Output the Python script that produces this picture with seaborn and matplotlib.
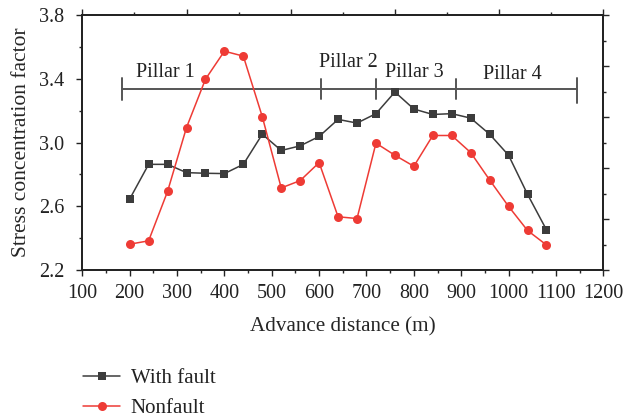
import numpy as np
import pandas as pd
import matplotlib
matplotlib.use("Agg")
import matplotlib.pyplot as plt
from matplotlib.ticker import MultipleLocator, NullFormatter
import seaborn as sns

# ---- data ----
distance = [200, 240, 280, 320, 360, 400, 440, 480, 520, 560, 600, 640,
            680, 720, 760, 800, 840, 880, 920, 960, 1000, 1040, 1080]
with_fault = [2.645, 2.863, 2.863, 2.811, 2.807, 2.805, 2.863, 3.052, 2.950,
              2.979, 3.038, 3.145, 3.122, 3.181, 3.317, 3.210, 3.176, 3.181,
              3.153, 3.052, 2.920, 2.675, 2.452]
nonfault = [2.362, 2.383, 2.693, 3.094, 3.397, 3.573, 3.542, 3.162, 2.715,
            2.761, 2.874, 2.534, 2.523, 2.996, 2.920, 2.851, 3.044, 3.044,
            2.937, 2.765, 2.599, 2.448, 2.357]
pillar_bounds = [184, 605, 721, 888, 1144]
pillar_labels = ["Pillar 1", "Pillar 2", "Pillar 3", "Pillar 4"]
pillar_label_x = [275, 661, 800, 1009]
pillar_label_y = [3.44, 3.505, 3.44, 3.425]
pillar_line_y = 3.335
y_major = [2.2, 2.6, 3.0, 3.4, 3.8]
y_minor = [2.4, 2.8, 3.2, 3.6]
series_names = ["With fault", "Nonfault"]

df = pd.DataFrame({"distance": distance * 2,
                   "value": with_fault + nonfault,
                   "series": [series_names[0]] * len(distance) + [series_names[1]] * len(distance)})

sns.set_style("ticks")
plt.rcParams['font.family'] = ['Liberation Serif', 'DejaVu Serif']
plt.rcParams['font.size'] = 14

fig = plt.figure(figsize=(6.23, 4.17), dpi=100)
ax = fig.add_axes([0.1321, 0.3525, 0.8363, 0.6115])

dark = "#3c3c3c"
red = "#ee3b35"
sns.lineplot(data=df[df.series == series_names[0]], x="distance", y="value",
             color=dark, marker="s", markersize=6, markeredgewidth=0, linewidth=1.1,
             label=series_names[0], ax=ax)
sns.lineplot(data=df[df.series == series_names[1]], x="distance", y="value",
             color=red, marker="o", markersize=6.5, markeredgewidth=0, linewidth=1.1,
             label=series_names[1], ax=ax)

# pillar annotation
gray = "#555555"
ax.plot([pillar_bounds[0], pillar_bounds[-1]], [pillar_line_y, pillar_line_y],
        color=gray, linewidth=1.4, zorder=1)
for i, b in enumerate(pillar_bounds):
    lo, hi = (0.06, 0.065) if i not in (0, len(pillar_bounds) - 1) else (0.07, 0.07)
    if i == len(pillar_bounds) - 1:
        lo = 0.09
    ax.plot([b, b], [pillar_line_y - lo, pillar_line_y + hi], color=gray, linewidth=1.4, zorder=1)
for t, x, y in zip(pillar_labels, pillar_label_x, pillar_label_y):
    ax.text(x, y, t, ha="center", va="center", fontsize=14.5, color="#222222")

ax.set_xlim(100, 1200)
ax.set_ylim(2.2, 3.8)
ax.xaxis.set_major_locator(MultipleLocator(100))
ax.xaxis.set_minor_locator(MultipleLocator(50))
ax.set_yticks(y_major)
ax.set_yticks(y_minor, minor=True)
ax.yaxis.set_major_formatter(matplotlib.ticker.FormatStrFormatter("%.1f"))
ax.set_xlabel("Advance distance (m)", fontsize=15.2, labelpad=10)
ax.set_ylabel("Stress concentration factor", fontsize=15.5, labelpad=6)
ax.tick_params(axis="both", which="major", direction="out", length=4, width=1,
               labelsize=14.5, colors="#222222")
ax.tick_params(axis="x", which="major", pad=6)
ax.tick_params(axis="y", which="major", pad=9)
ax.tick_params(axis="both", which="minor", direction="out", length=2.5, width=1)

for sp in ax.spines.values():
    sp.set_color("#222222")
    sp.set_linewidth(1.1)

# top and right axes with ticks, no labels
axt = ax.twiny()
axt.set_xlim(0, 10)
axt.xaxis.set_major_locator(MultipleLocator(2))
axt.xaxis.set_minor_locator(MultipleLocator(1))
axt.xaxis.set_major_formatter(NullFormatter())
axt.tick_params(axis="x", which="major", direction="out", length=4, width=1)
axt.tick_params(axis="x", which="minor", direction="out", length=2.5, width=1)
axr = ax.twinx()
axr.set_ylim(0, 10)
axr.yaxis.set_major_locator(MultipleLocator(2))
axr.yaxis.set_minor_locator(MultipleLocator(1))
axr.yaxis.set_major_formatter(NullFormatter())
axr.tick_params(axis="y", which="major", direction="out", length=4, width=1)
axr.tick_params(axis="y", which="minor", direction="out", length=2.5, width=1)
for a in (axt, axr):
    for sp in a.spines.values():
        sp.set_color("#222222")
        sp.set_linewidth(1.1)

leg = ax.legend(loc="upper left", bbox_to_anchor=(-0.015, -0.355), frameon=False,
                fontsize=15, handlelength=1.8, handletextpad=0.5, labelspacing=0.5,
                borderaxespad=0)
for t in leg.get_texts():
    t.set_color("#222222")

fig.savefig("out.png", dpi=100)
